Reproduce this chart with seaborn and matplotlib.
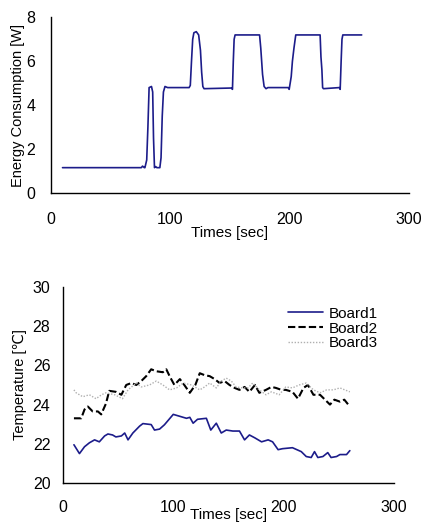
import matplotlib
matplotlib.use('Agg')
import matplotlib.pyplot as plt
import seaborn as sns
import pandas as pd

# style
sns.set_style("white")
plt.rcParams['font.family'] = ['Liberation Sans', 'DejaVu Sans']
plt.rcParams['font.size'] = 10
plt.rcParams['text.color'] = 'black'
plt.rcParams['axes.labelcolor'] = 'black'

# 1. energy consumption data
energy_time = [10, 76, 77, 78.5, 79, 80.5, 81.5, 82.5, 84.5, 85.5, 86.2, 87, 88, 89, 91.5,
               92.5, 93.5, 94.5, 95.8, 98, 116, 117, 118, 119, 120, 122, 124, 125.5, 126.5,
               127.5, 128.5, 151.5, 152.3, 153, 153.7, 154.5, 175, 176, 177.5, 178.8, 180.4,
               182, 199, 199.8, 201.5, 202.5, 203.8, 205.3, 225.7, 226.4, 227.2, 227.8, 228.5,
               241.8, 242.5, 243.3, 244, 244.7, 260.5]
energy_watt = [1.15, 1.15, 1.22, 1.15, 1.15, 1.5, 3.0, 4.8, 4.85, 4.6, 2.5, 1.15, 1.2, 1.15, 1.15,
               1.6, 3.5, 4.6, 4.85, 4.8, 4.8, 4.9, 6.0, 7.0, 7.3, 7.35, 7.2, 6.5, 5.5,
               4.85, 4.75, 4.78, 4.72, 6.0, 7.0, 7.2, 7.2, 6.6, 5.4, 4.85, 4.75,
               4.8, 4.8, 4.72, 5.3, 6.0, 6.6, 7.2, 7.2, 6.2, 5.6, 4.8, 4.75,
               4.8, 4.72, 6.0, 7.0, 7.2, 7.2]

# 2. board temperature data
board1_time = [10, 15, 19.6, 24, 28.7, 33, 37.8, 40.8, 45, 48, 53, 56, 59, 63.4, 69.5, 72.5, 80,
               83, 87.6, 92, 100, 106, 112, 115, 118, 122, 130, 134, 139, 143.5, 148, 154,
               160, 164.6, 169, 174, 180, 186, 190, 195, 199, 208, 216, 220.5, 225, 228,
               231, 235.6, 240, 243, 248, 251, 257, 260]
board1_temp = [21.95, 21.5, 21.85, 22.05, 22.2, 22.1, 22.4, 22.5, 22.45, 22.35, 22.4, 22.55,
               22.2, 22.55, 22.9, 23.03, 22.98, 22.7, 22.75, 22.97, 23.5, 23.4, 23.3, 23.35,
               23.05, 23.25, 23.3, 22.7, 23.05, 22.55, 22.7, 22.65, 22.65, 22.2, 22.45, 22.3,
               22.1, 22.2, 22.1, 21.7, 21.75, 21.8, 21.6, 21.35, 21.3, 21.6, 21.3, 21.35,
               21.55, 21.3, 21.35, 21.45, 21.45, 21.65]

board2_time = [10, 16.6, 19.6, 22.6, 27, 31.7, 34.7, 39, 42, 48, 53, 57.4, 62, 66.5, 71, 75.5,
               80, 84.6, 90.6, 93.7, 96.7, 101, 106, 110, 115, 120, 124, 128.4, 133, 137.5,
               142, 146.5, 151, 155.6, 160, 164.6, 169, 174, 178, 184, 189, 193, 198, 202,
               208, 213, 218, 222, 227, 233, 237.5, 242, 246, 251, 255, 260]
board2_temp = [23.3, 23.3, 23.75, 23.9, 23.65, 23.65, 23.5, 24.05, 24.7, 24.65, 24.5, 25.0,
               25.1, 25.0, 25.2, 25.45, 25.8, 25.7, 25.65, 25.8, 25.45, 25.0, 25.3, 25.0,
               24.6, 25.0, 25.6, 25.5, 25.45, 25.3, 25.1, 25.2, 25.0, 24.85, 24.75, 24.9,
               24.65, 25.0, 24.6, 24.75, 24.9, 24.85, 24.75, 24.75, 24.65, 24.3, 24.85, 25.0,
               24.5, 24.5, 24.25, 24.0, 24.25, 24.15, 24.25, 23.9]

board3_time = [10, 12, 18, 24, 30, 35, 39, 47, 54, 59, 66.5, 71, 78.5, 84.6, 90.6, 96.7, 103,
               109, 116.6, 124, 128.4, 133, 139, 143.5, 148, 152.6, 157, 163, 167.7, 172,
               178, 184, 189, 196, 202, 208, 214, 220.5, 227, 233, 239, 245, 251, 260]
board3_temp = [24.75, 24.6, 24.4, 24.5, 24.3, 24.5, 24.6, 24.5, 24.3, 24.75, 25.1, 24.9, 25.0,
               25.2, 25.0, 24.75, 24.85, 25.1, 25.0, 24.75, 24.9, 25.1, 24.85, 25.2, 25.35,
               25.2, 24.9, 24.85, 24.85, 25.1, 24.75, 24.5, 24.65, 24.5, 24.9, 24.85, 25.0,
               25.1, 24.75, 24.6, 24.75, 24.75, 24.85, 24.65]

df_energy = pd.DataFrame({'Time': energy_time, 'Energy': energy_watt})

fig = plt.figure(figsize=(4.25, 5.27), dpi=100)
ax1 = fig.add_axes([0.119, 0.634, 0.843, 0.333])
ax2 = fig.add_axes([0.148, 0.0835, 0.779, 0.372])

# 3. top chart
sns.lineplot(data=df_energy, x='Time', y='Energy', ax=ax1, color='#1c1c8a',
             linewidth=1.2, estimator=None, sort=False)
ax1.set_xlim(0, 300)
ax1.set_ylim(0, 8)
ax1.set_xticks([0, 100, 200, 300])
ax1.set_yticks([0, 2, 4, 6, 8])
ax1.set_xlabel('Times [sec]', fontsize=11, labelpad=-1)
ax1.set_ylabel('Energy Consumption [W]', fontsize=10.5, labelpad=1)

# 4. bottom chart
sns.lineplot(x=board1_time, y=board1_temp, ax=ax2, color='#1c1c8a', linewidth=1.2,
             estimator=None, sort=False, label='Board1')
sns.lineplot(x=board2_time, y=board2_temp, ax=ax2, color='black', linewidth=1.5,
             estimator=None, sort=False, label='Board2', dashes=False)
ax2.lines[-1].set_dashes((3.5, 1.5))
sns.lineplot(x=board3_time, y=board3_temp, ax=ax2, color='#b0b0b0', linewidth=1.0,
             estimator=None, sort=False, label='Board3', dashes=False)
ax2.lines[-1].set_dashes((1, 1.2))
ax2.set_xlim(0, 300)
ax2.set_ylim(20, 30)
ax2.set_xticks([0, 100, 200, 300])
ax2.set_yticks([20, 22, 24, 26, 28, 30])
ax2.set_xlabel('Times [sec]', fontsize=11, labelpad=-5)
ax2.set_ylabel('Temperature [℃]', fontsize=10.5, labelpad=4)
ax2.legend(loc='upper left', bbox_to_anchor=(0.66, 0.93), frameon=False, fontsize=11,
           handlelength=2.3, labelspacing=0.05, borderaxespad=0, handletextpad=0.4)

for ax in (ax1, ax2):
    sns.despine(ax=ax)
    ax.tick_params(direction='in', length=4, width=1, labelsize=11.5, colors='black')
    ax.tick_params(axis='x', pad=14)
    for s in ('left', 'bottom'):
        ax.spines[s].set_color('black')
        ax.spines[s].set_linewidth(1)
ax1.tick_params(axis='y', pad=11)
ax2.tick_params(axis='y', pad=9)
ax2.tick_params(axis='x', pad=12)

plt.savefig('out.png', dpi=100)
